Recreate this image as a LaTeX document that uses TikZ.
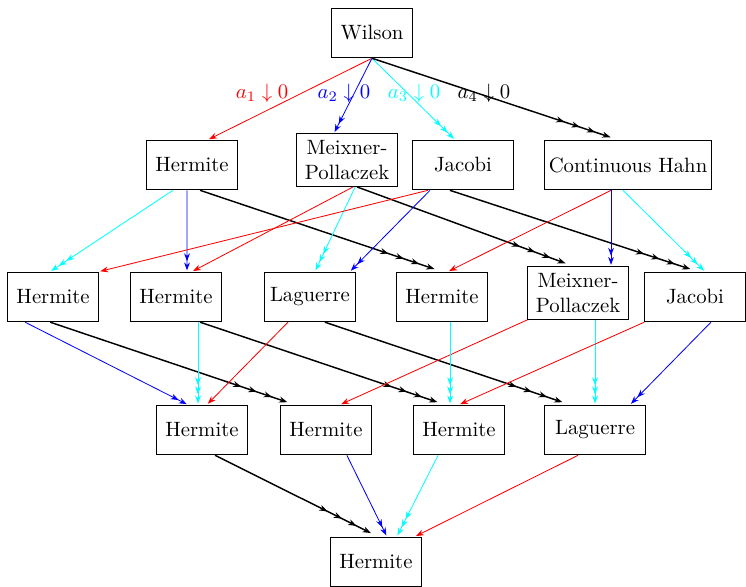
\documentclass[tikz,border=0pt]{standalone}
\usepackage{amsmath,amssymb}
\usetikzlibrary{arrows.meta}
\definecolor{limred}{RGB}{255,0,0}
\definecolor{limblue}{RGB}{0,0,255}
\definecolor{limcyan}{RGB}{0,255,255}
\tikzset{
  Box/.style={draw,rectangle,minimum width=44pt,minimum height=24pt,inner xsep=2pt,inner ysep=3.3pt,align=center},
  Wide/.style={Box,minimum width=48.5pt},
  Lim/.style={>={Stealth[length=3.8pt,width=2.8pt,sep=0.6pt]}},
  LimA/.style={Lim,limred,line width=0.4pt,->},
  LimB/.style={Lim,limblue,line width=0.4pt,->>},
  LimC/.style={Lim,limcyan,line width=0.4pt,->>>},
  LimD/.style={black,line width=0.7pt,>={Stealth[length=4pt,width=2.9pt,sep=3.8pt]},->>>>}
}
\begin{document}
\begin{tikzpicture}[x=1pt,y=1pt]
\useasboundingbox (0,0) rectangle (359.8,283.1);

\node[Box,minimum width=39.5pt] (w) at (179.4pt,267.2pt) {Wilson};
\node[Box] (h1) at (92.6pt,203.5pt) {Hermite};
\node[Wide] (mp1) at (167.4pt,205.9pt) {Meixner-\\Pollaczek};
\node[Wide] (j1) at (223.3pt,203.5pt) {Jacobi};
\node[Box] (ch1) at (302.9pt,203.5pt) {Continuous Hahn};
\node[Box] (h2a) at (25.6pt,139.9pt) {Hermite};
\node[Box] (h2b) at (84.9pt,139.9pt) {Hermite};
\node[Box] (l2) at (149.5pt,139.9pt) {Laguerre};
\node[Box] (h2c) at (213.2pt,139.9pt) {Hermite};
\node[Wide] (mp2) at (278.8pt,141.8pt) {Meixner-\\Pollaczek};
\node[Wide] (j2) at (335.2pt,139.9pt) {Jacobi};
\node[Box] (h3a) at (97.4pt,75.7pt) {Hermite};
\node[Box] (h3b) at (157.2pt,75.7pt) {Hermite};
\node[Box] (h3c) at (221.4pt,75.7pt) {Hermite};
\node[Wide] (l3) at (287.0pt,75.7pt) {Laguerre};
\node[Box] (h4) at (181.3pt,12.1pt) {Hermite};

\node[limred] (a1) at (126.4pt,238.3pt) {$a_1\downarrow 0$};
\node[limblue] (a2) at (165.9pt,238.3pt) {$a_2\downarrow 0$};
\node[limcyan] (a3) at (199.7pt,238.3pt) {$a_3\downarrow 0$};
\node[black] (a4) at (233.4pt,238.3pt) {$a_4\downarrow 0$};

\draw[LimA] (w.south) -- ([xshift=7.7pt]h1.north);
\draw[LimB] (w.south) -- ([xshift=-6.3pt]mp1.north);
\draw[LimC] (w.south) -- ([xshift=-3.9pt]j1.north);
\draw[LimD] (w.south) -- ([xshift=-4.8pt]ch1.north);

\draw[LimC] ([xshift=-9.2pt]h1.south) -- ([xshift=-1.4pt]h2a.north);
\draw[LimB] ([xshift=-2.4pt]h1.south) -- ([xshift=5.3pt]h2b.north);
\draw[LimD] ([xshift=3.9pt]h1.south) -- (h2c.north);
\draw[LimA] ([xshift=2.9pt]mp1.south) -- ([xshift=7.7pt]h2b.north);
\draw[LimC] ([xshift=3.9pt]mp1.south) -- ([xshift=2.4pt]l2.north);
\draw[LimD] ([xshift=4.8pt]mp1.south) -- ([xshift=-2.4pt]mp2.north);
\draw[LimA] ([xshift=-16.9pt]j1.south) -- (h2a.north east);
\draw[LimB] ([xshift=-15.9pt]j1.south) -- ([xshift=19.3pt]l2.north);
\draw[LimD] ([xshift=-6.3pt]j1.south) -- ([xshift=1.4pt]j2.north);
\draw[LimA] ([xshift=-8.2pt]ch1.south) -- ([xshift=2.9pt]h2c.north);
\draw[LimB] ([xshift=-8.2pt]ch1.south) -- ([xshift=15.9pt]mp2.north);
\draw[LimC] ([xshift=-2.4pt]ch1.south) -- ([xshift=4.8pt]j2.north);

\draw[LimB] ([xshift=-13.5pt]h2a.south) -- ([xshift=-6.8pt]h3a.north);
\draw[LimD] ([xshift=-1.4pt]h2a.south) -- ([xshift=-15pt]h3b.north);
\draw[LimC] ([xshift=10.6pt]h2b.south) -- ([xshift=-1.9pt]h3a.north);
\draw[LimD] ([xshift=11.6pt]h2b.south) -- ([xshift=-6.8pt]h3c.north);
\draw[LimA] ([xshift=-10.6pt]l2.south) -- ([xshift=2.4pt]h3a.north);
\draw[LimD] ([xshift=7.2pt]l2.south) -- ([xshift=-12.1pt]l3.north);
\draw[LimA] (mp2.south west) -- ([xshift=6.8pt]h3b.north);
\draw[LimC] ([xshift=3.9pt]h2c.south) -- ([xshift=-4.3pt]h3c.north);
\draw[LimC] ([xshift=8.2pt]mp2.south) -- (l3.north);
\draw[LimA] (j2.south west) -- (h3c.north);
\draw[LimB] ([xshift=7.7pt]j2.south) -- ([xshift=16.9pt]l3.north);

\draw[LimD] ([xshift=6.3pt]h3a.south) -- ([xshift=1pt]h4.north);
\draw[LimB] ([xshift=10.1pt]h3b.south) -- ([xshift=5.3pt]h4.north);
\draw[LimC] ([xshift=-10.1pt]h3c.south) -- ([xshift=10.1pt]h4.north);
\draw[LimA] ([xshift=-8.2pt]l3.south) -- ([xshift=18.8pt]h4.north);
\end{tikzpicture}
\end{document}
